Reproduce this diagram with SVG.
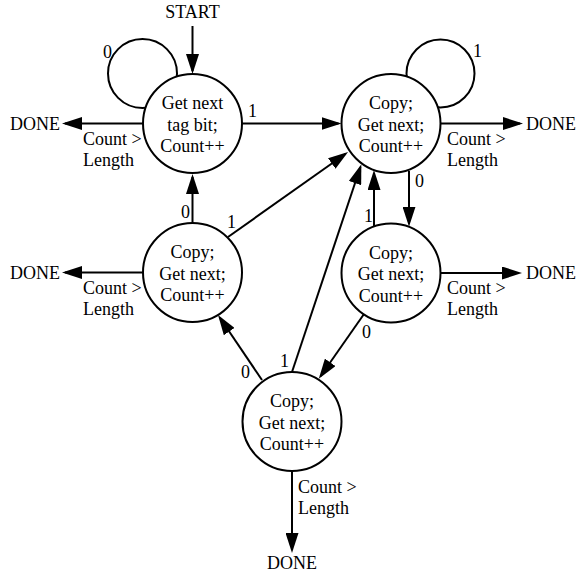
<svg xmlns="http://www.w3.org/2000/svg" width="578" height="574" viewBox="0 0 578 574">
<style>
text{font-family:"Liberation Serif","Times New Roman",serif;font-size:18px;fill:#000}
.m{text-anchor:middle}
.e{text-anchor:end}
.node{fill:#fff;stroke:#000;stroke-width:2}
.edge{fill:none;stroke:#000;stroke-width:2}
</style>
<defs>
<marker id="arr" viewBox="0 0 20 13" refX="17" refY="6.5" markerWidth="20" markerHeight="13" markerUnits="userSpaceOnUse" orient="auto">
<path d="M0,0 L20,6.5 L0,13 Z" fill="#000"/>
</marker>
</defs>
<rect width="578" height="574" fill="#fff"/>
<g id="connectors">
<circle class="edge" cx="142.5" cy="73.5" r="34.5"/>
<circle class="edge" cx="440.5" cy="73.5" r="34"/>
<path class="edge" marker-end="url(#arr)" d="M192.5,26 V71"/>
<path class="edge" marker-end="url(#arr)" d="M242,123.5 H338.5"/>
<path class="edge" marker-end="url(#arr)" d="M143,123.5 H65"/>
<path class="edge" marker-end="url(#arr)" d="M192.5,223 V177"/>
<path class="edge" marker-end="url(#arr)" d="M228,237 L345.6,153.7"/>
<path class="edge" marker-end="url(#arr)" d="M143,272.5 H65"/>
<path class="edge" marker-end="url(#arr)" d="M262,380 L219.7,317.5"/>
<path class="edge" marker-end="url(#arr)" d="M292,372 L360.4,167"/>
<path class="edge" marker-end="url(#arr)" d="M409,171 V223.8"/>
<path class="edge" marker-end="url(#arr)" d="M374,226 V173"/>
<path class="edge" marker-end="url(#arr)" d="M363.5,314.7 L320.5,376.3"/>
<path class="edge" marker-end="url(#arr)" d="M440.5,123.5 H520"/>
<path class="edge" marker-end="url(#arr)" d="M440.5,273 H519"/>
<path class="edge" marker-end="url(#arr)" d="M292,471 V550"/>
<text x="103" y="58">0</text>
<text x="473" y="57">1</text>
<text x="248" y="117">1</text>
<text x="181" y="218">0</text>
<text x="227" y="228">1</text>
<text x="415" y="187">0</text>
<text x="364" y="222">1</text>
<text x="362" y="338">0</text>
<text x="241" y="378">0</text>
<text x="280" y="367">1</text>
<text x="83" y="145">Count &gt;</text>
<text x="83" y="166">Length</text>
<text x="83" y="294">Count &gt;</text>
<text x="83" y="315">Length</text>
<text x="447" y="145">Count &gt;</text>
<text x="447" y="166">Length</text>
<text x="447" y="294">Count &gt;</text>
<text x="447" y="315">Length</text>
<text x="298" y="493">Count &gt;</text>
<text x="298" y="514">Length</text>
</g>
<g id="start"><text class="m" x="192.5" y="18">START</text></g>
<g id="done-a"><text class="e" x="60" y="130">DONE</text></g>
<g id="done-c"><text class="e" x="60" y="279">DONE</text></g>
<g id="done-b"><text x="526" y="130">DONE</text></g>
<g id="done-d"><text x="526" y="279">DONE</text></g>
<g id="done-e"><text class="m" x="292" y="569">DONE</text></g>
<g id="nodeA">
<circle class="node" cx="192.5" cy="123.5" r="49.5"/>
<text class="m" x="192.5" y="109">Get next</text>
<text class="m" x="192.5" y="130.5">tag bit;</text>
<text class="m" x="192.5" y="152">Count++</text>
</g>
<g id="nodeB">
<circle class="node" cx="391" cy="123.5" r="49.5"/>
<text class="m" x="391" y="109">Copy;</text>
<text class="m" x="391" y="130.5">Get next;</text>
<text class="m" x="391" y="152">Count++</text>
</g>
<g id="nodeC">
<circle class="node" cx="192.5" cy="272.5" r="49.5"/>
<text class="m" x="192.5" y="258">Copy;</text>
<text class="m" x="192.5" y="279.5">Get next;</text>
<text class="m" x="192.5" y="301">Count++</text>
</g>
<g id="nodeD">
<circle class="node" cx="391" cy="273" r="49.5"/>
<text class="m" x="391" y="258.5">Copy;</text>
<text class="m" x="391" y="280">Get next;</text>
<text class="m" x="391" y="301.5">Count++</text>
</g>
<g id="nodeE">
<circle class="node" cx="292" cy="421.5" r="49.5"/>
<text class="m" x="292" y="407">Copy;</text>
<text class="m" x="292" y="428.5">Get next;</text>
<text class="m" x="292" y="450">Count++</text>
</g>
</svg>
